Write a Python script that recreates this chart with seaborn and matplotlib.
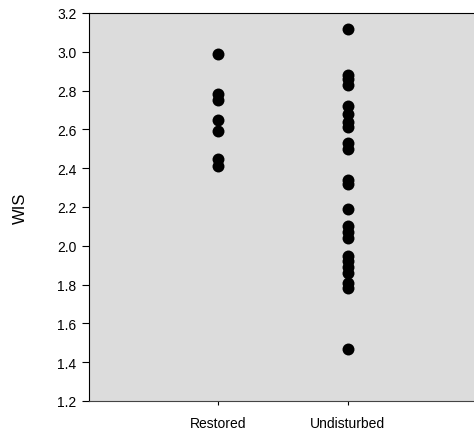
import matplotlib
matplotlib.use("Agg")
import matplotlib.pyplot as plt
import seaborn as sns
import pandas as pd

restored = [2.99, 2.78, 2.75, 2.65, 2.59, 2.45, 2.41]
undisturbed = [3.12, 2.88, 2.86, 2.83, 2.72, 2.68, 2.64, 2.61, 2.53, 2.50,
               2.34, 2.32, 2.19, 2.10, 2.07, 2.04, 1.95, 1.92, 1.89, 1.86,
               1.81, 1.78, 1.47]
categories = ["Restored", "Undisturbed"]
yticks = [1.2, 1.4, 1.6, 1.8, 2.0, 2.2, 2.4, 2.6, 2.8, 3.0, 3.2]

df = pd.DataFrame({
    "group": [categories[0]] * len(restored) + [categories[1]] * len(undisturbed),
    "WIS": restored + undisturbed,
})

sns.set_style("ticks")
plt.rcParams['font.family'] = ['Liberation Sans', 'DejaVu Sans']
plt.rcParams['text.color'] = 'black'
plt.rcParams['axes.labelcolor'] = 'black'
plt.rcParams['xtick.color'] = 'black'
plt.rcParams['ytick.color'] = 'black'

fig = plt.figure(figsize=(4.74, 4.39), dpi=100)
ax = fig.add_axes([89/474, 1 - 402/439, (474-89)/474, (402-14)/439])
ax.set_facecolor("#dcdcdc")

sns.stripplot(data=df, x="group", y="WIS", order=categories, jitter=False,
              color="black", size=8.6, linewidth=0, ax=ax)

ax.set_xlim(-0.99, 1.97)
ax.set_ylim(1.2, 3.2)
ax.set_yticks(yticks)
ax.set_yticklabels([f"{t:.1f}" for t in yticks], fontsize=10)
ax.tick_params(axis="y", length=5, width=0.8, direction="out", pad=4)
ax.tick_params(axis="x", length=3, width=0.8, labelsize=10, pad=8)
ax.set_xlabel("")
ax.set_ylabel("WIS", fontsize=12, labelpad=21)
for s in ax.spines.values():
    s.set_linewidth(0.8)
    s.set_color("black")
ax.spines["right"].set_visible(False)
ax.spines["bottom"].set_color("#444444")

fig.savefig("out.png", dpi=100)
